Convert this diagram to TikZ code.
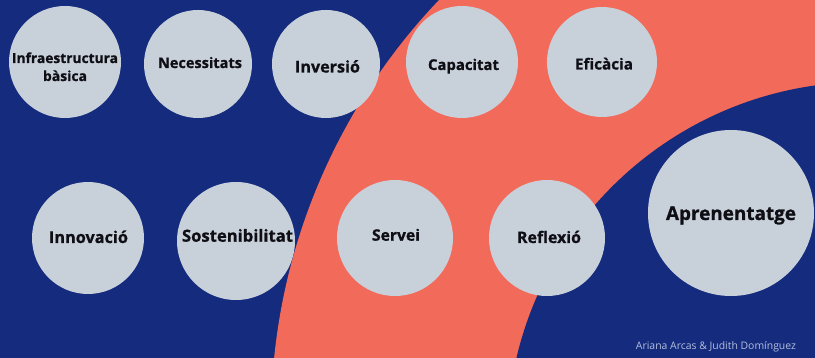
\documentclass[tikz,border=0pt]{standalone}
\usepackage{fontspec}
\usepackage{graphicx}
\setmainfont{Open Sans}[BoldFeatures={FakeBold=0.8}]
\definecolor{bgblue}{RGB}{20,43,126}
\definecolor{coral}{RGB}{242,106,90}
\definecolor{bubble}{RGB}{200,208,218}
\definecolor{ink}{RGB}{14,14,20}
\definecolor{credit}{RGB}{180,190,220}
\newcommand{\fitw}[2]{\resizebox{#1pt}{!}{#2}}
\tikzset{
  bub/.style={circle, fill=bubble, inner sep=0pt},
  lbl/.style={anchor=base, inner sep=0pt, text=ink, font=\bfseries\fontsize{15}{18}\selectfont},
}
\begin{document}
\begin{tikzpicture}[x=1pt,y=-1pt]
\useasboundingbox (0,0) rectangle (815,358);
\fill[bgblue] (0,0) rectangle (815,358);
\begin{scope}
  \clip (0,0) rectangle (815,358);
  \fill[coral] (880,420) circle (609pt);
  \fill[bgblue] (865,440) circle (358pt);
\end{scope}
% bubbles
\node[bub, minimum size=112pt] (infra) at (65,62) {};
\node[bub, minimum size=108pt] (necess) at (198,64) {};
\node[bub, minimum size=108pt] (inversio) at (326,64) {};
\node[bub, minimum size=112pt] (capac) at (462,62) {};
\node[bub, minimum size=110pt] (efic) at (602,62) {};
\node[bub, minimum size=112pt] (innov) at (88,238) {};
\node[bub, minimum size=118pt] (sosten) at (236,241) {};
\node[bub, minimum size=116pt] (servei) at (395,238) {};
\node[bub, minimum size=116pt] (reflex) at (547,238) {};
\node[bub, minimum size=166pt] (apren) at (731,213) {};
% labels
\node[lbl] (t-infra1) at (65,63) {\fitw{106}{Infraestructura}};
\node[lbl] (t-infra2) at (65,81) {\fitw{44}{bàsica}};
\node[lbl] (t-necess) at (200,68) {\fitw{84}{Necessitats}};
\node[lbl] (t-inversio) at (327.5,72.5) {\fitw{65}{Inversió}};
\node[lbl] (t-capac) at (463.5,70) {\fitw{71}{Capacitat}};
\node[lbl] (t-efic) at (604,69.5) {\fitw{58}{Eficàcia}};
\node[lbl] (t-innov) at (88.5,243) {\fitw{79}{Innovació}};
\node[lbl] (t-sosten) at (237.5,241.7) {\fitw{111}{Sostenibilitat}};
\node[lbl] (t-servei) at (396,240.7) {\fitw{48}{Servei}};
\node[lbl] (t-reflex) at (549,243) {\fitw{64}{Reflexió}};
\node[lbl] (t-apren) at (731,220) {\fitw{130}{Aprenentatge}};
\node[anchor=base, inner sep=0pt, text=credit, font=\fontsize{9.5}{11}\selectfont] (credit) at (716,349) {\fitw{160}{Ariana Arcas \& Judith Domínguez}};
\end{tikzpicture}
\end{document}
